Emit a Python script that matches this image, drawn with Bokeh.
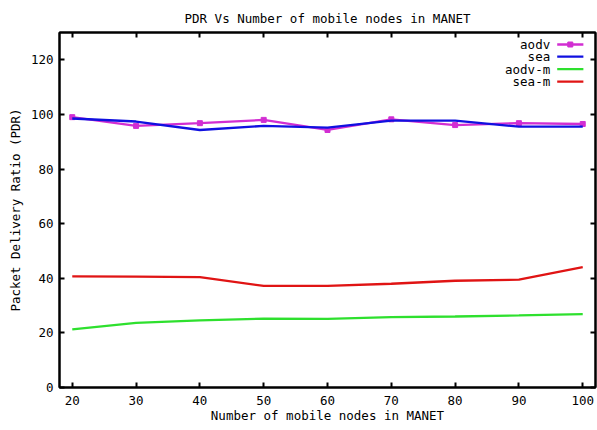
from bokeh.plotting import figure
from bokeh.models import LinearAxis, Range1d, FixedTicker, ColumnDataSource
from bokeh.core.properties import value
from bokeh.embed import file_html
from bokeh.resources import INLINE

# ---- data ----
nodes = [20, 30, 40, 50, 60, 70, 80, 90, 100]
aodv = [99.0, 95.8, 96.8, 98.0, 94.3, 98.2, 96.1, 96.8, 96.5]
sea = [98.5, 97.4, 94.3, 95.8, 95.2, 97.7, 97.7, 95.5, 95.5]
aodv_m = [21.3, 23.7, 24.6, 25.2, 25.1, 25.8, 26.0, 26.4, 26.9]
sea_m = [40.7, 40.6, 40.4, 37.2, 37.2, 38.0, 39.1, 39.5, 44.1]

series_names = ["aodv", "sea", "aodv-m", "sea-m"]
series_colors = ["#d22ed2", "#1010e0", "#2ee02e", "#e01414"]
y_ticks = [0, 20, 40, 60, 80, 100, 120]

FONT = "DejaVu Sans Mono"
FS = "12.5px"

p = figure(width=597, height=430, x_range=Range1d(18, 102), y_range=Range1d(0, 130),
           output_backend="svg", toolbar_location=None,
           title="PDR Vs Number of mobile nodes in MANET",
           min_border_left=59, min_border_right=2, min_border_top=32, min_border_bottom=43)

p.title.align = "center"
p.title.text_font = FONT
p.title.text_font_size = FS
p.title.text_font_style = "normal"
p.title.text_color = "black"
p.title.offset = 0
p.title.standoff = 13

p.xgrid.visible = False
p.ygrid.visible = False
p.outline_line_color = "black"
p.outline_line_width = 2
p.background_fill_color = "white"
p.border_fill_color = "white"

p.xaxis.ticker = FixedTicker(ticks=nodes)
p.yaxis.ticker = FixedTicker(ticks=y_ticks)
p.xaxis.axis_label = "Number of mobile nodes in MANET"
p.yaxis.axis_label = "Packet Delivery Ratio (PDR)"

for ax in [p.xaxis[0], p.yaxis[0]]:
    ax.major_tick_in = 5
    ax.major_tick_out = 0
    ax.minor_tick_line_color = None
    ax.axis_line_width = 2
    ax.major_tick_line_width = 2
    ax.major_label_text_font = FONT
    ax.major_label_text_font_size = FS
    ax.major_label_text_color = "black"
    ax.axis_label_text_font = FONT
    ax.axis_label_text_font_size = FS
    ax.axis_label_text_font_style = "normal"
    ax.axis_label_text_color = "black"
p.xaxis.major_label_standoff = 8
p.yaxis.major_label_standoff = 6
p.xaxis.axis_label_standoff = 0
p.yaxis.axis_label_standoff = 5

# mirrored ticks (gnuplot style) drawn as label-less minor ticks
right = LinearAxis(ticker=FixedTicker(ticks=[], minor_ticks=y_ticks),
                   major_tick_line_color=None, minor_tick_in=5, minor_tick_out=0,
                   minor_tick_line_width=2, axis_line_width=2)
top = LinearAxis(ticker=FixedTicker(ticks=[], minor_ticks=nodes),
                 major_tick_line_color=None, minor_tick_in=5, minor_tick_out=0,
                 minor_tick_line_width=2, axis_line_width=2)
p.add_layout(right, "right")
p.add_layout(top, "above")

src = ColumnDataSource(dict(x=nodes, aodv=aodv, sea=sea, aodv_m=aodv_m, sea_m=sea_m))

p.line("x", "aodv", source=src, color=series_colors[0], line_width=2.3)
p.scatter("x", "aodv", source=src, marker="square", size=5, color=series_colors[0])
p.line("x", "sea", source=src, color=series_colors[1], line_width=2.3)
p.line("x", "aodv_m", source=src, color=series_colors[2], line_width=2.3)
p.line("x", "sea_m", source=src, color=series_colors[3], line_width=2.3)

# gnuplot-style legend: label on the left, sample on the right
leg_y = [125.6, 121.2, 116.6, 112.0]
leg = ColumnDataSource(dict(
    tx=[94.9] * 4, ty=leg_y, label=series_names,
    x0=[96.0] * 4, x1=[100.1] * 4, color=series_colors))
p.text("tx", "ty", text="label", source=leg, text_align="right", text_baseline="middle",
       text_font=value(FONT), text_font_size=FS, text_color="black")
p.segment("x0", "ty", "x1", "ty", source=leg, color="color", line_width=2.3)
p.scatter([98.05], [leg_y[0]], marker="square", size=5, color=series_colors[0])

open("out.html", "w").write(file_html(p, INLINE))
